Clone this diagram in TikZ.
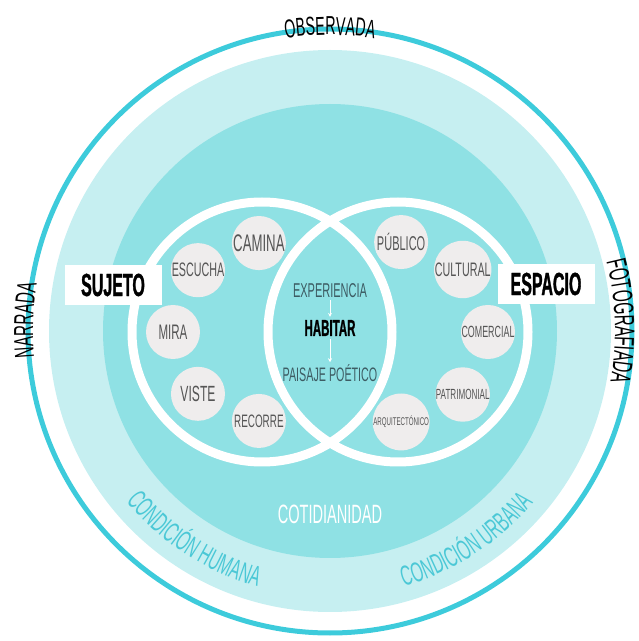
\documentclass[tikz,border=0pt]{standalone}
\usepackage{fontspec}
\usepackage{tikz}
\usetikzlibrary{calc,positioning,decorations.text,arrows.meta}
\newfontfamily\handfont[FakeStretch=0.55]{Liberation Sans}
\newfontfamily\heavyfont[FakeStretch=0.5,FakeBold=1,UprightFont={* Bold}]{Liberation Sans}
\definecolor{ringcol}{HTML}{3DCBDB}
\definecolor{pale}{HTML}{C6EFF1}
\definecolor{midcol}{HTML}{8FE1E4}
\definecolor{dotcol}{HTML}{EFEDED}
\definecolor{ink}{HTML}{555555}
\definecolor{slate}{HTML}{3D5C63}
\definecolor{condcol}{HTML}{4BC8D6}
\tikzset{
  bubble/.style={circle, fill=dotcol, minimum size=54pt, inner sep=0pt, text=ink},
  tagbox/.style={fill=white, minimum width=97pt, minimum height=40pt, inner sep=0pt,
    font=\heavyfont\fontsize{32}{32}\selectfont},
  hand/.style={font=\handfont\fontsize{#1}{#1}\selectfont}
}
\begin{document}
\begin{tikzpicture}[x=1pt,y=1pt]
  \useasboundingbox (0,0) rectangle (639,641);
  \coordinate (c) at (330,310);
  \coordinate (l) at (262,309);
  \coordinate (r) at (398,309);
  % rings
  \draw[ringcol, line width=5pt] (c) circle (302);
  \fill[pale] (c) circle (281);
  \fill[midcol] (c) circle (227);
  \draw[white, line width=9pt] (l) circle (130) (r) circle (130);

  % bubbles
  \foreach \a/\k/\t/\s in {92/camina/CAMINA/24, 136/escucha/ESCUCHA/19.5, 180/mira/MIRA/21,
      224/viste/VISTE/22, 268/recorre/RECORRE/18}
    \node (\k) [bubble, hand=\s] at ($(l)+(\a:89)$) {\t};
  \foreach \a/\k/\t/\s in {88/publico/PÚBLICO/20, 44/cultural/CULTURAL/19.5, 0/comercial/COMERCIAL/16.2,
      -44/patrimonial/PATRIMONIAL/14.7, -88/arquitectonico/ARQUITECTÓNICO/11.2}
    \node (\k) [bubble, hand=\s] at ($(r)+(\a:90)$) {\t};

  \node (sujeto) [tagbox] at (113,356) {SUJETO};
  \node (espacio) [tagbox] at (546,357) {ESPACIO};

  % center
  \node (exp) [hand=20, text=slate, inner sep=2pt] at (330,350) {EXPERIENCIA};
  \node (habitar) [font=\heavyfont\fontsize{23}{23}\selectfont, inner sep=3pt] at (330,313) {HABITAR};
  \node (paisaje) [hand=19.5, text=slate, inner sep=2pt] at (330,268) {PAISAJE POÉTICO};
  \draw[-{Stealth[length=4pt,width=4pt]}, white, line width=0.8pt] (exp) -- (habitar);
  \draw[-{Stealth[length=4pt,width=4pt]}, white, line width=0.8pt] (habitar) -- (paisaje);

  \node (coti) [hand=26.5, text=white] at (330,127) {COTIDIANIDAD};

  % texts on arcs
  \path[decorate, decoration={text along path, text align=center,
      text={|\handfont\fontsize{26}{26}\selectfont|OBSERVADA}}]
    ($(c)+(120:296)$) arc[start angle=120, end angle=60, radius=296];
  \path[decorate, decoration={text along path, text align=center,
      text={|\handfont\fontsize{27.5}{27.5}\selectfont|NARRADA}}]
    ($(c)+(198:297)$) arc[start angle=198, end angle=158, radius=297];
  \path[decorate, decoration={text along path, text align=center,
      text={|\handfont\fontsize{28}{28}\selectfont|FOTOGRAFIADA}}]
    ($(c)+(25:285)$) arc[start angle=25, end angle=-21, radius=285];
  \path[decorate, decoration={text along path, text align=center,
      text={|\handfont\fontsize{28}{28}\selectfont\color{condcol}|CONDICIÓN HUMANA}}]
    ($(c)+(207:266)$) arc[start angle=207, end angle=267, radius=266];
  \path[decorate, decoration={text along path, text align=center,
      text={|\handfont\fontsize{28}{28}\selectfont\color{condcol}|CONDICIÓN URBANA}}]
    ($(c)+(273:266)$) arc[start angle=273, end angle=333, radius=266];
\end{tikzpicture}
\end{document}
